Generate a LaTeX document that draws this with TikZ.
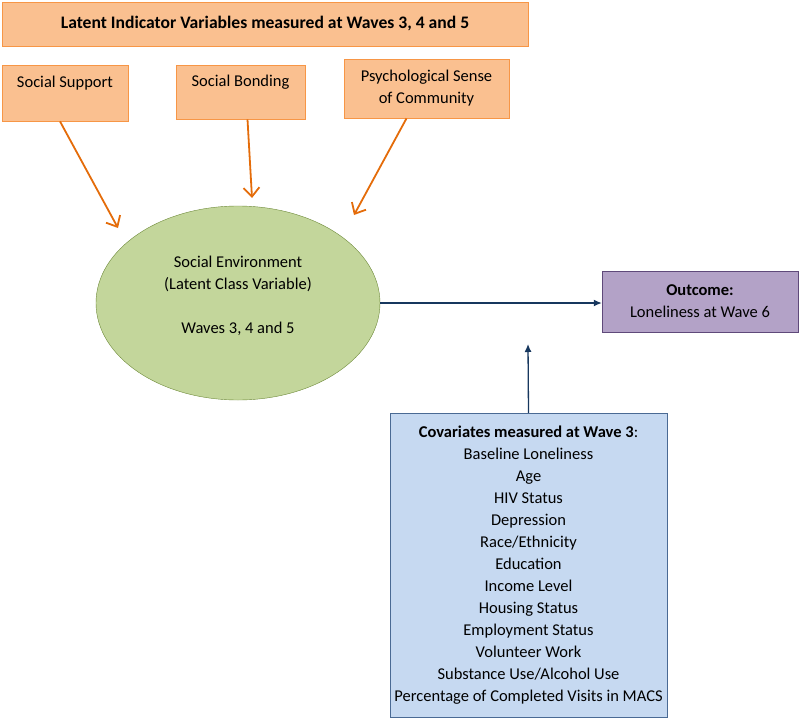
\documentclass[tikz,border=0pt]{standalone}
\usepackage{fontspec}
\setmainfont{Carlito}
\usepackage{tikz}
\usetikzlibrary{arrows.meta,positioning,shapes.geometric}
\definecolor{peach}{HTML}{FAC090}
\definecolor{peachline}{HTML}{F79646}
\definecolor{rust}{HTML}{E46C0A}
\definecolor{sage}{HTML}{C3D69B}
\definecolor{sageline}{HTML}{6E8A3A}
\definecolor{lilac}{HTML}{B3A2C7}
\definecolor{lilacline}{HTML}{5F497A}
\definecolor{sky}{HTML}{C6D9F1}
\definecolor{skyline}{HTML}{4A6A94}
\definecolor{navy}{HTML}{17375E}

\begin{document}
\begin{tikzpicture}[
x=1pt,y=-1pt,
font=\fontsize{16.5}{22}\selectfont,
ind/.style={draw=peachline,fill=peach,align=center,inner sep=0pt,line width=0.8pt},
orarr/.style={-{Straight Barb[length=9pt,width=16pt]},line width=1.8pt,color=rust},
nvarr/.style={-{Latex[length=8pt,width=7pt]},line width=1.3pt,color=navy}
]
\useasboundingbox (0,0) rectangle (800,720);

% indicators
\node[ind,font=\fontsize{17.6}{22}\selectfont\bfseries,minimum width=526pt,minimum height=44pt] (head) at (265,24) {Latent Indicator Variables measured at Waves 3, 4 and 5};
\node[ind,minimum width=126pt,minimum height=56pt] (supp) at (65,93) {Social Support\\~};
\node[ind,minimum width=129pt,minimum height=54pt] (bond) at (240.5,92) {Social Bonding\\~};
\node[ind,minimum width=165pt,minimum height=59pt] (psc) at (426.5,88.5) {Psychological Sense\\of Community};

% latent class
\node[ellipse,draw=sageline,fill=sage,align=center,minimum width=284pt,minimum height=194pt,inner sep=0pt] (env) at (238,303) {Social Environment\\(Latent Class Variable)\\[22pt]Waves 3, 4 and 5\\[-6pt]\mbox{}};
\coordinate (t1) at (118,228);
\coordinate (t2) at (252,198);
\coordinate (t3) at (354,215);
\draw[orarr] ([xshift=-5pt]supp.south)--(t1);
\draw[orarr] ([xshift=7pt]bond.south)--(t2);
\draw[orarr] ([xshift=-20pt]psc.south)--(t3);

% outcome and covariates
\node[draw=lilacline,fill=lilac,align=center,minimum width=196pt,minimum height=61pt,inner sep=0pt] (out) at (700,301.5) {\textbf{Outcome:}\\Loneliness at Wave 6};
\draw[nvarr] (env.east)--(out.west|-env.east);

\node[draw=skyline,fill=sky,align=center,minimum width=277pt,minimum height=304pt,inner sep=0pt] (cov) at (528.5,565) {\textbf{Covariates measured at Wave 3}:\\Baseline Loneliness\\Age\\HIV Status\\Depression\\Race/Ethnicity\\Education\\Income Level\\Housing Status\\Employment Status\\Volunteer Work\\Substance Use/Alcohol Use\\Percentage of Completed Visits in MACS};
\coordinate (c1) at (528,344);
\draw[nvarr] (cov.north)--(c1);
\end{tikzpicture}
\end{document}
